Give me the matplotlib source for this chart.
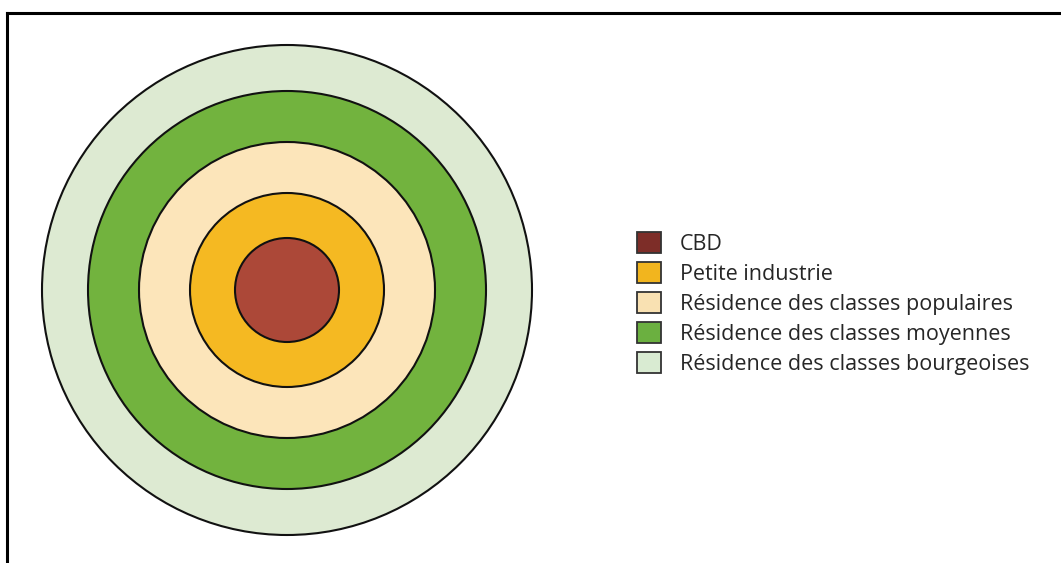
import matplotlib
matplotlib.use("Agg")
import matplotlib.pyplot as plt
from matplotlib.patches import Circle, Patch
from matplotlib.lines import Line2D

labels = ["CBD", "Petite industrie", "Résidence des classes populaires",
          "Résidence des classes moyennes", "Résidence des classes bourgeoises"]
radii = [52, 97, 148, 199, 245]
ring_colors = ["#AC4838", "#F5B922", "#FCE5BA", "#72B33E", "#DDEAD2"]
legend_colors = ["#7D2D28", "#F2B51E", "#F9E1B2", "#6BB040", "#D9EBD2"]
center = (287, 290)

fig = plt.figure(figsize=(10.61, 5.63), dpi=100)
ax = fig.add_axes([0, 0, 1, 1])
ax.set_xlim(0, 1061)
ax.set_ylim(563, 0)
ax.set_aspect("equal")
ax.axis("off")

# frame lines (top and left)
ax.add_line(Line2D([7, 1061], [13, 13], color="black", lw=2.2))
ax.add_line(Line2D([7, 7], [13, 563], color="black", lw=2.2))

for r, c in sorted(zip(radii, ring_colors), reverse=True):
    ax.add_patch(Circle(center, r, facecolor=c, edgecolor="#111111", lw=1.5))

handles = [Patch(facecolor=c, edgecolor="#333333", lw=1.3) for c in legend_colors]
leg = ax.legend(handles, labels, loc="upper left",
                bbox_to_anchor=(637 / 1061, 1 - 232 / 563),
                frameon=False, fontsize=15.5, handlelength=1.12, handleheight=1.12,
                handletextpad=0.88, labelspacing=0.34, borderpad=0, borderaxespad=0)
for t in leg.get_texts():
    t.set_color("#262626")
    t.set_family("Open Sans")

fig.savefig("out.png", dpi=100, facecolor="white")
